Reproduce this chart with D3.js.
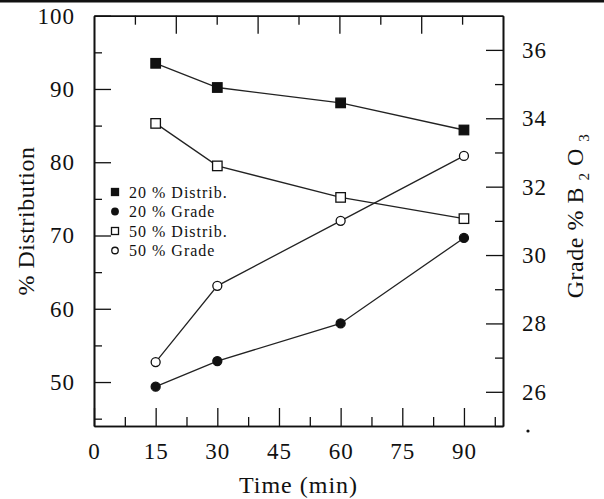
<!DOCTYPE html>
<meta charset="utf-8">
<script src="https://d3js.org/d3.v7.min.js"></script>
<style>
  body { margin: 0; background: #fff; }
  text { font-family: "Liberation Serif", "Times New Roman", serif; fill: #111; }
</style>
<div id="chart"></div>
<script>

// sampling times (min)
var times = [15, 30, 60, 90];

// % distribution (left axis)
var distrib20 = [93.5, 90.2, 88.1, 84.4];
var distrib50 = [85.3, 79.5, 75.2, 72.3];

// grade % B2O3 (right axis)
var grade20 = [26.15, 26.9, 28.0, 30.5];
var grade50 = [26.87, 29.1, 31.0, 32.9];

// tick values
var xMajor = [0, 15, 30, 45, 60, 75, 90];
var xMinor = [7.5, 22.5, 37.5, 52.5, 67.5, 82.5, 97.5];
var yLMajor = [50, 60, 70, 80, 90, 100];
var yLMinor = [45, 55, 65, 75, 85, 95];
var yRMajor = [26, 28, 30, 32, 34, 36];
var yRMinor = [25, 27, 29, 31, 33, 35];
var topMajor = [20, 40, 60, 80];
var topMinor = [10, 30, 50, 70, 90];

var legendLabels = ["20 % Distrib.", "20 % Grade", "50 % Distrib.", "50 % Grade"];

var W = 604, H = 499;
var pLeft = 94, pRight = 503, pTop = 15.7, pBottom = 426;

var svg = d3.select("#chart").append("svg")
  .attr("width", W).attr("height", H);

svg.append("rect").attr("width", W).attr("height", H).attr("fill", "#fff");
// scan border at the very top
svg.append("rect").attr("x", 0).attr("y", 0).attr("width", W).attr("height", 2.5).attr("fill", "#111");

var x = d3.scaleLinear().domain([0, 99.5]).range([pLeft, pRight]);
var xTop = d3.scaleLinear().domain([0, 100]).range([pLeft, pRight]);
var yL = d3.scaleLinear().domain([44, 100]).range([pBottom, pTop]);
var yR = d3.scaleLinear().domain([25, 37]).range([pBottom, pTop]);

function styleAxis(g) {
  g.selectAll("path.domain").attr("stroke", "#111").attr("stroke-width", 1.6);
  g.selectAll("line").attr("stroke", "#111").attr("stroke-width", 1.3);
  g.selectAll("text").attr("font-size", 23).attr("letter-spacing", 1)
    .attr("font-family", "Liberation Serif, serif").attr("fill", "#111");
}

// bottom axis
svg.append("g").attr("transform", "translate(0," + pBottom + ")")
  .call(d3.axisBottom(x).tickValues(xMajor).tickSizeInner(-18).tickSizeOuter(0).tickPadding(17))
  .call(styleAxis);
svg.append("g").attr("transform", "translate(0," + pBottom + ")")
  .call(d3.axisBottom(x).tickValues(xMinor).tickSizeInner(-9).tickSizeOuter(0).tickFormat(""))
  .call(styleAxis);

// top axis
svg.append("g").attr("transform", "translate(0," + pTop + ")")
  .call(d3.axisTop(xTop).tickValues(topMajor).tickSizeInner(-18).tickSizeOuter(0).tickFormat(""))
  .call(styleAxis);
svg.append("g").attr("transform", "translate(0," + pTop + ")")
  .call(d3.axisTop(xTop).tickValues(topMinor).tickSizeInner(-9).tickSizeOuter(0).tickFormat(""))
  .call(styleAxis);

// left axis
svg.append("g").attr("transform", "translate(" + pLeft + ",0)")
  .call(d3.axisLeft(yL).tickValues(yLMajor).tickSizeInner(-17).tickSizeOuter(0).tickPadding(19))
  .call(styleAxis);
svg.append("g").attr("transform", "translate(" + pLeft + ",0)")
  .call(d3.axisLeft(yL).tickValues(yLMinor).tickSizeInner(-8).tickSizeOuter(0).tickFormat(""))
  .call(styleAxis);

// right axis
svg.append("g").attr("transform", "translate(" + pRight + ",0)")
  .call(d3.axisRight(yR).tickValues(yRMajor).tickSizeInner(-17).tickSizeOuter(0).tickPadding(19))
  .call(styleAxis);
svg.append("g").attr("transform", "translate(" + pRight + ",0)")
  .call(d3.axisRight(yR).tickValues(yRMinor).tickSizeInner(-8).tickSizeOuter(0).tickFormat(""))
  .call(styleAxis);

// axis titles
svg.append("text")
  .attr("transform", "translate(34,221) rotate(-90)")
  .attr("text-anchor", "middle").attr("font-size", 24).attr("letter-spacing", 0.5)
  .text("% Distribution");

var rt = svg.append("text")
  .attr("transform", "translate(583,216) rotate(-90)")
  .attr("text-anchor", "middle").attr("font-size", 24).attr("letter-spacing", 0.5);
rt.append("tspan").text("Grade % B ");
rt.append("tspan").attr("font-size", 15).attr("dy", 6).text("2");
rt.append("tspan").attr("dy", -6).text(" O ");
rt.append("tspan").attr("font-size", 15).attr("dy", 6).text("3");

svg.append("text")
  .attr("x", (pLeft + pRight) / 2).attr("y", 493)
  .attr("text-anchor", "middle").attr("font-size", 24).attr("letter-spacing", 1)
  .text("Time (min)");

// series
var series = [
  { vals: distrib20, y: yL, shape: "square", fill: "#111" },
  { vals: grade20, y: yR, shape: "circle", fill: "#111" },
  { vals: distrib50, y: yL, shape: "square", fill: "#fff" },
  { vals: grade50, y: yR, shape: "circle", fill: "#fff" }
];

var line = d3.line();

function drawMarker(g, shape, fill, cx, cy, s) {
  if (shape === "square") {
    g.append("rect").attr("x", cx - s / 2).attr("y", cy - s / 2)
      .attr("width", s).attr("height", s)
      .attr("fill", fill).attr("stroke", "#111").attr("stroke-width", 1.3);
  } else {
    g.append("circle").attr("cx", cx).attr("cy", cy).attr("r", s / 2)
      .attr("fill", fill).attr("stroke", "#111").attr("stroke-width", 1.3);
  }
}

series.forEach(function(s) {
  var pts = times.map(function(t, i) { return [x(t), s.y(s.vals[i])]; });
  svg.append("path").attr("d", line(pts))
    .attr("fill", "none").attr("stroke", "#222").attr("stroke-width", 1.3);
  var g = svg.append("g");
  pts.forEach(function(p) {
    drawMarker(g, s.shape, s.fill, p[0], p[1], s.shape === "square" ? 9.5 : 9);
  });
});

// legend
var leg = svg.append("g");
legendLabels.forEach(function(lab, i) {
  var ly = 192 + i * 19.5;
  drawMarker(leg, series[i].shape, series[i].fill, 115, ly, series[i].shape === "square" ? 7 : 6.5);
  leg.append("text").attr("x", 129).attr("y", ly + 5.5)
    .attr("font-size", 16).attr("letter-spacing", 1).text(lab);
});

// small stray dot from the scan
svg.append("circle").attr("cx", 528).attr("cy", 431).attr("r", 1.6).attr("fill", "#111");

</script>
